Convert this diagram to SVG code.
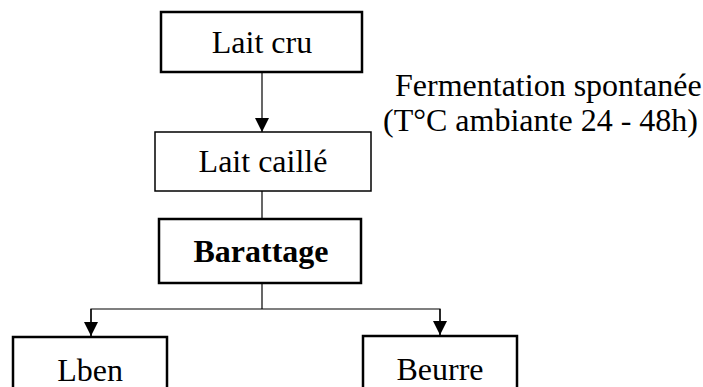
<svg xmlns="http://www.w3.org/2000/svg" width="703" height="387" viewBox="0 0 703 387">
<style>
.box{fill:#fff;stroke:#000;stroke-width:2.5}
.thin{stroke-width:1.5}
text{font-family:"Liberation Serif","Times New Roman",serif;font-size:32px;fill:#000}
.c{text-anchor:middle}
.b{font-weight:bold}
.ln{stroke:#000;stroke-width:1.2;fill:none}
</style>
<defs>
<marker id="ah" markerUnits="userSpaceOnUse" markerWidth="16" markerHeight="16" refX="14" refY="7" orient="auto">
<path d="M0,0 L14,7 L0,14 Z" fill="#000"/>
</marker>
</defs>
<rect width="703" height="387" fill="#fff"/>
<g id="connectors">
<line class="ln" x1="262" y1="72" x2="262" y2="132" marker-end="url(#ah)"/>
<line class="ln" x1="262" y1="191" x2="262" y2="219"/>
<line class="ln" x1="262" y1="283" x2="262" y2="309"/>
<polyline class="ln" points="91,336 91,309 440,309 440,336"/>
<line class="ln" x1="91" y1="309" x2="91" y2="336" marker-end="url(#ah)"/>
<line class="ln" x1="440" y1="309" x2="440" y2="335" marker-end="url(#ah)"/>
</g>
<g id="lait-cru">
<rect class="box" x="161" y="12" width="201" height="60"/>
<text class="c" x="262" y="53" font-family="Liberation Serif, serif">Lait cru</text>
</g>
<g id="note">
<text x="395" y="96" font-family="Liberation Serif, serif">Fermentation spontanée</text>
<text x="383" y="131" font-family="Liberation Serif, serif">(T°C ambiante 24 - 48h)</text>
</g>
<g id="lait-caille">
<rect class="box thin" x="155" y="132" width="216" height="59"/>
<text class="c" x="263" y="172" font-family="Liberation Serif, serif">Lait caillé</text>
</g>
<g id="barattage">
<rect class="box" x="159" y="219" width="202" height="64"/>
<text class="c b" x="261" y="262" font-family="Liberation Serif, serif">Barattage</text>
</g>
<g id="lben">
<rect class="box" x="13" y="337" width="154" height="60"/>
<text class="c" x="90" y="381" font-family="Liberation Serif, serif">Lben</text>
</g>
<g id="beurre">
<rect class="box" x="363" y="336" width="154" height="60"/>
<text class="c" x="440" y="380" font-family="Liberation Serif, serif">Beurre</text>
</g>
</svg>
